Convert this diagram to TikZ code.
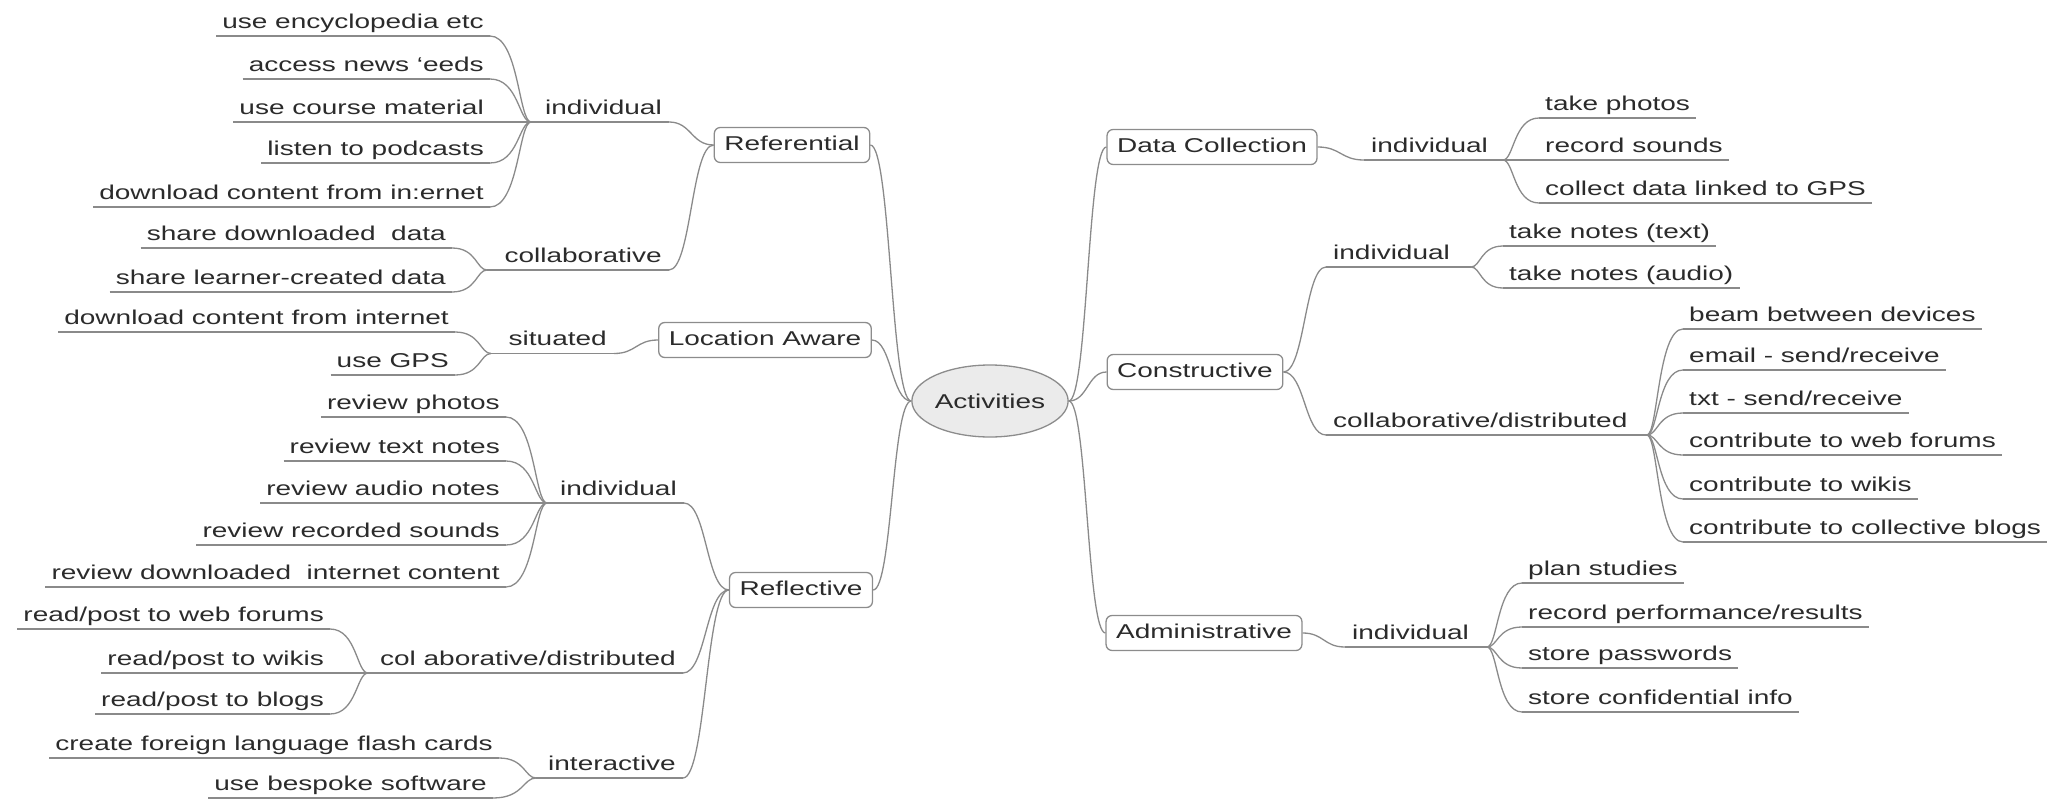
\documentclass[tikz,border=0pt]{standalone}
\usepackage{fontspec}
\setmainfont{Liberation Sans}[FakeStretch=1.4]
\usetikzlibrary{calc,shapes.geometric}
\definecolor{linec}{HTML}{8A8A8A}
\definecolor{txtc}{HTML}{2B2B2B}
\definecolor{boxc}{HTML}{8C8C8C}
\definecolor{ellfill}{HTML}{EBEBEB}
\newcommand\mmcurve[3][0.5]{\draw[conn] let \p1=(#2), \p2=(#3) in (\p1) .. controls ({\x1+#1*(\x2-\x1)},\y1) and ({\x1+#1*(\x2-\x1)},\y2) .. (\p2);}
\tikzset{
  every node/.style={text=txtc, font=\fontsize{20}{24}\selectfont},
  conn/.style={draw=linec, line width=1.3pt},
  leaf/.style={inner xsep=6pt, inner ysep=3.5pt, text height=15pt, text depth=4pt,
    append after command={(\tikzlastnode.south west) edge[conn] (\tikzlastnode.south east)}},
  leafL/.style={leaf, anchor=south east},
  leafR/.style={leaf, anchor=south west},
  midL/.style={inner xsep=7pt, inner ysep=3.5pt, text height=15pt, text depth=4pt, anchor=south east},
  midR/.style={inner xsep=7pt, inner ysep=3.5pt, text height=15pt, text depth=4pt, anchor=south west},
  topic/.style={draw=boxc, line width=1.3pt, rounded corners=6pt, fill=white, inner xsep=10pt, inner ysep=8pt, text height=15pt, text depth=4pt},
  central/.style={ellipse, draw=boxc, fill=ellfill, line width=1.3pt, minimum width=136pt, minimum height=72pt, inner sep=0pt}
}
\begin{document}
\begin{tikzpicture}[x=1pt,y=-1pt]
\useasboundingbox (0,0) rectangle (2057,800);
% centre and topics
\node[central] (act) at (990,401) {Activities};
\node[topic] (ref) at (792,145) {Referential};
\node[topic] (loc) at (765,340) {Location Aware};
\node[topic] (refl) at (801,590) {Reflective};
\node[topic] (dc) at (1212,147) {Data Collection};
\node[topic] (con) at (1195,372) {Constructive};
\node[topic] (adm) at (1204,633) {Administrative};
\mmcurve{ref.east}{act.west}
\mmcurve{loc.east}{act.west}
\mmcurve{refl.east}{act.west}
\mmcurve{act.east}{dc.west}
\mmcurve{act.east}{con.west}
\mmcurve{act.east}{adm.west}

% ---- Referential / individual
\coordinate (j1) at (531,122);
\node[leafL] (l1) at (490,36) {use encyclopedia etc};
\node[leafL] (l2) at (490,79) {access news ‘eeds};
\node[leafL] (l3) at (490,122) {use course material};
\node[leafL] (l4) at (490,163) {listen to podcasts};
\node[leafL] (l5) at (490,207) {download content from in:ernet};
\foreach \i in {1,...,5} {\mmcurve[0.3]{j1}{l\i.south east}}
\node[midL] (i1) at (669,122) {individual};
\draw[conn] (j1) -- (i1.south east);
\mmcurve{i1.south east}{ref.west}
% ---- Referential / collaborative
\coordinate (j2) at (487,270);
\node[leafL] (l6) at (452,248) {share downloaded\ \ data};
\node[leafL] (l7) at (452,292) {share learner-created data};
\foreach \i in {6,7} {\mmcurve[0.3]{j2}{l\i.south east}}
\node[midL] (c1) at (669,270) {collaborative};
\draw[conn] (j2) -- (c1.south east);
\mmcurve{c1.south east}{ref.west}
% ---- Location Aware / situated
\coordinate (j3) at (491,353.5);
\node[leafL] (l8) at (455,332) {download content from internet};
\node[leafL] (l9) at (455,375) {use GPS};
\foreach \i in {8,9} {\mmcurve[0.3]{j3}{l\i.south east}}
\node[midL] (s1) at (614,353.5) {situated};
\draw[conn] (j3) -- (s1.south east);
\mmcurve{s1.south east}{loc.west}
% ---- Reflective / individual
\coordinate (j4) at (547,503);
\node[leafL] (l10) at (506,417) {review photos};
\node[leafL] (l11) at (506,461) {review text notes};
\node[leafL] (l12) at (506,503) {review audio notes};
\node[leafL] (l13) at (506,545) {review recorded sounds};
\node[leafL] (l14) at (506,587) {review downloaded\ \ internet content};
\foreach \i in {10,...,14} {\mmcurve[0.3]{j4}{l\i.south east}}
\node[midL] (i2) at (684,503) {individual};
\draw[conn] (j4) -- (i2.south east);
\mmcurve{i2.south east}{refl.west}
% ---- Reflective / collaborative-distributed
\coordinate (j5) at (368,673);
\node[leafL] (l15) at (330,629) {read/post to web forums};
\node[leafL] (l16) at (330,673) {read/post to wikis};
\node[leafL] (l17) at (330,714) {read/post to blogs};
\foreach \i in {15,16,17} {\mmcurve[0.3]{j5}{l\i.south east}}
\node[midL] (c2) at (683,673) {col aborative/distributed};
\draw[conn] (j5) -- (c2.south east);
\mmcurve{c2.south east}{refl.west}
% ---- Reflective / interactive
\coordinate (j6) at (536,778);
\node[leafL] (l18) at (499,758) {create foreign language flash cards};
\node[leafL] (l19) at (493,798) {use bespoke software};
\foreach \i in {18,19} {\mmcurve[0.3]{j6}{l\i.south east}}
\node[midL] (t1) at (683,778) {interactive};
\draw[conn] (j6) -- (t1.south east);
\mmcurve{t1.south east}{refl.west}

% ---- Data Collection / individual
\node[midR] (i3) at (1364,160) {individual};
\coordinate (k1) at (1503,160);
\mmcurve{dc.east}{i3.south west}
\draw[conn] (i3.south west) -- (k1);
\node[leafR] (d1) at (1539,118) {take photos};
\node[leafR] (d2) at (1539,160) {record sounds};
\node[leafR] (d3) at (1539,203) {collect data linked to GPS};
\foreach \i in {1,2,3} {\mmcurve[0.3]{k1}{d\i.south west}}
% ---- Constructive / individual
\node[midR] (i4) at (1326,267) {individual};
\coordinate (k2) at (1471,267);
\mmcurve{con.east}{i4.south west}
\draw[conn] (i4.south west) -- (k2);
\node[leafR] (n1) at (1503,246) {take notes (text)};
\node[leafR] (n2) at (1503,288) {take notes (audio)};
\foreach \i in {1,2} {\mmcurve[0.3]{k2}{n\i.south west}}
% ---- Constructive / collaborative-distributed
\node[midR] (c3) at (1326,435) {collaborative/distributed};
\coordinate (k3) at (1647,435);
\mmcurve{con.east}{c3.south west}
\draw[conn] (c3.south west) -- (k3);
\node[leafR] (m1) at (1683,329) {beam between devices};
\node[leafR] (m2) at (1683,370) {email - send/receive};
\node[leafR] (m3) at (1683,413) {txt - send/receive};
\node[leafR] (m4) at (1683,455) {contribute to web forums};
\node[leafR] (m5) at (1683,499) {contribute to wikis};
\node[leafR] (m6) at (1683,542) {contribute to collective blogs};
\foreach \i in {1,...,6} {\mmcurve[0.3]{k3}{m\i.south west}}
% ---- Administrative / individual
\node[midR] (i5) at (1345,647) {individual};
\coordinate (k4) at (1487,647);
\mmcurve{adm.east}{i5.south west}
\draw[conn] (i5.south west) -- (k4);
\node[leafR] (a1) at (1522,583) {plan studies};
\node[leafR] (a2) at (1522,627) {record performance/results};
\node[leafR] (a3) at (1522,668) {store passwords};
\node[leafR] (a4) at (1522,712) {store confidential info};
\foreach \i in {1,...,4} {\mmcurve[0.3]{k4}{a\i.south west}}
\end{tikzpicture}
\end{document}
